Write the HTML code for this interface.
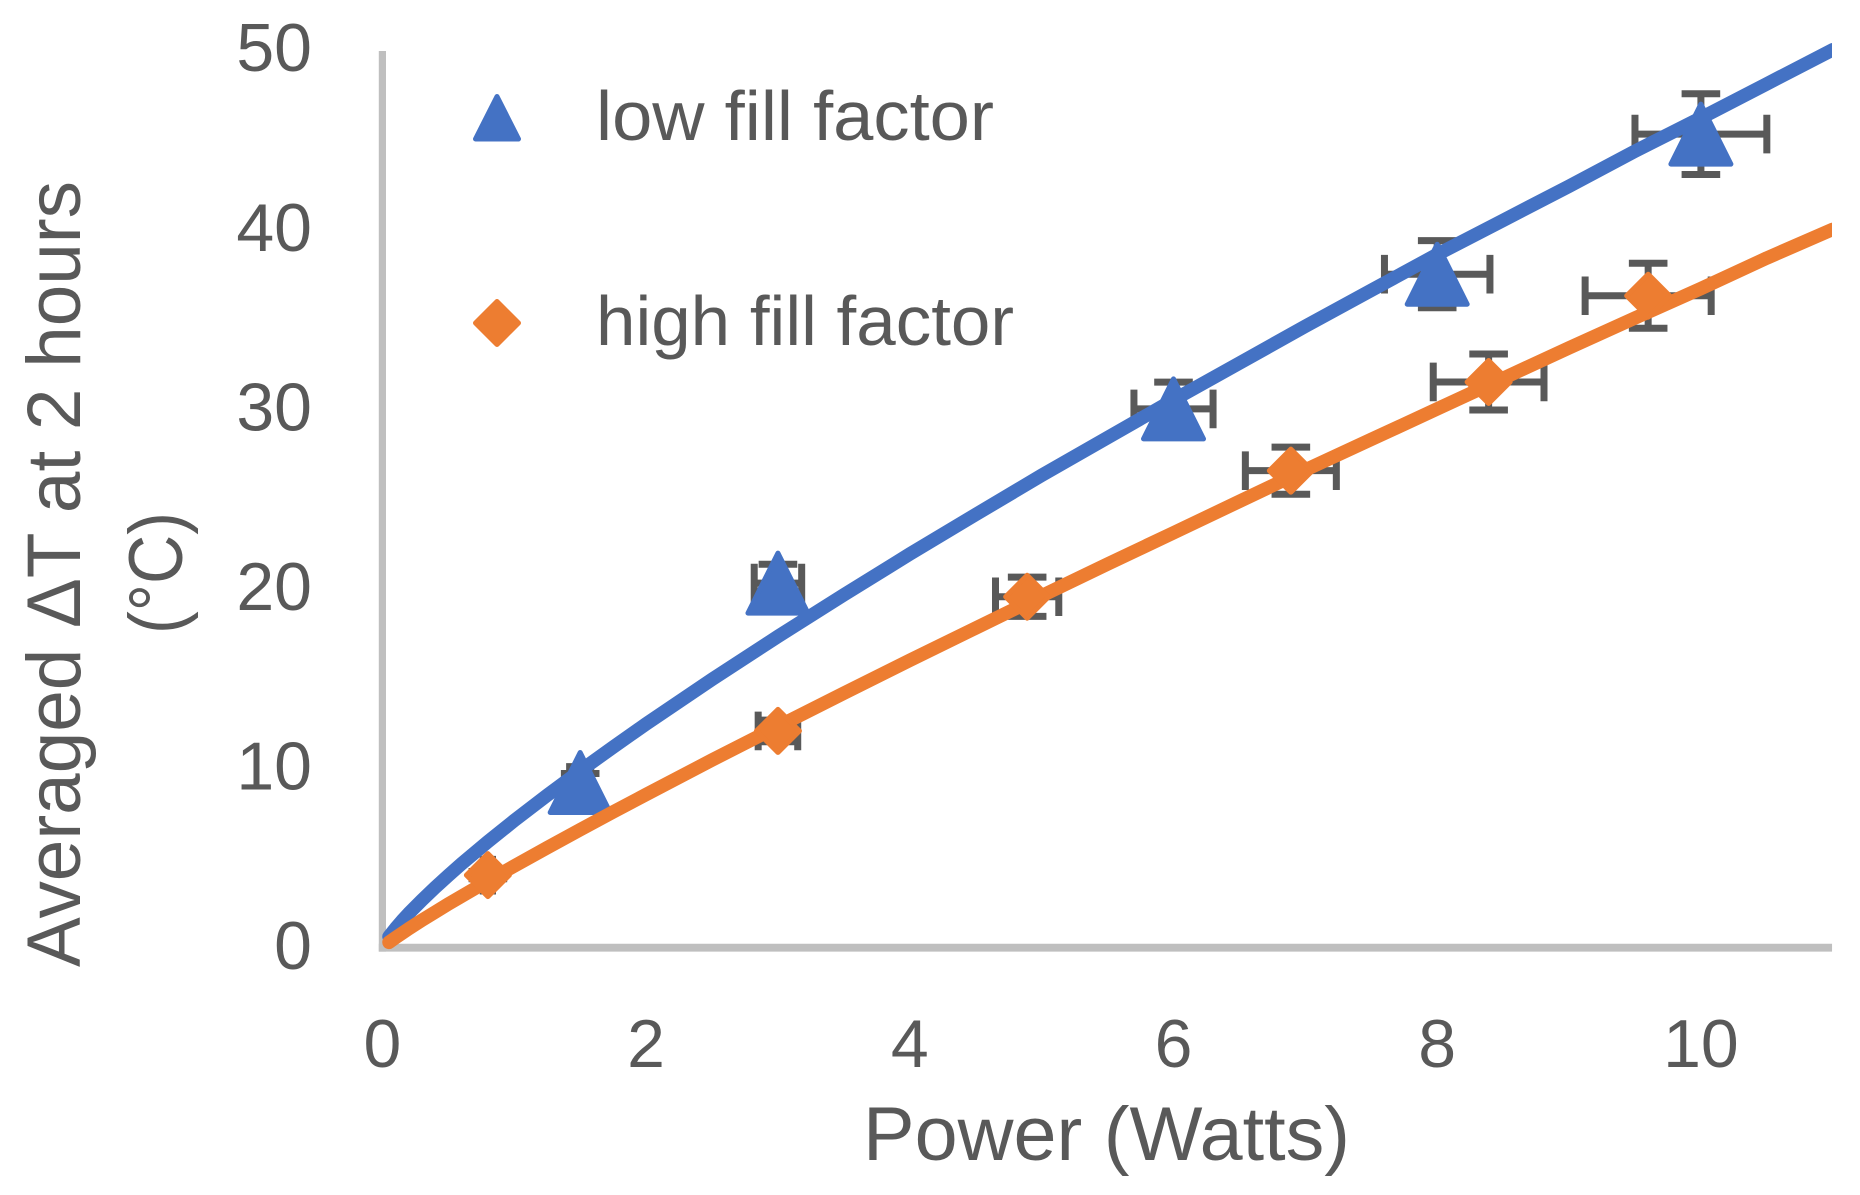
<!DOCTYPE html>
<html lang="en">
<head>
<meta charset="utf-8">
<title>Averaged temperature rise vs power</title>
<style>
html,body{margin:0;padding:0;background:#fff;}
svg{display:block;}
text{font-family:"Liberation Sans",sans-serif;fill:#595959;}
</style>
</head>
<body>
<svg id="chart" xmlns="http://www.w3.org/2000/svg" width="1860" height="1195" viewBox="0 0 1860 1195">
  <defs><clipPath id="plot-clip"><rect x="0" y="0" width="1832" height="1195"/></clipPath></defs>
  <rect x="0" y="0" width="1860" height="1195" fill="#ffffff"/>
  <g id="axes"></g>
  <g id="marks"></g>
  <g>
    <path d="M497 96.5 L518.5 139 L475.5 139 Z" fill="#4472C4" stroke="#4472C4" stroke-width="5" stroke-linejoin="round"/>
    <text x="596" y="140" font-size="70" textLength="398" lengthAdjust="spacingAndGlyphs">low fill factor</text>
    <path d="M497 301.5 L518.5 323 L497 344.5 L475.5 323 Z" fill="#ED7D31" stroke="#ED7D31" stroke-width="5" stroke-linejoin="round"/>
    <text x="596" y="345" font-size="70" textLength="418" lengthAdjust="spacingAndGlyphs">high fill factor</text>
  </g>
  <text x="863" y="1160" font-size="76" text-anchor="start" textLength="487" lengthAdjust="spacingAndGlyphs">Power (Watts)</text>
  <text transform="translate(80 967) rotate(-90)" x="0" y="0" font-size="76" textLength="786" lengthAdjust="spacingAndGlyphs">Averaged ΔT at 2 hours</text>
  <text transform="translate(182 634) rotate(-90)" x="0" y="0" font-size="76" textLength="122" lengthAdjust="spacingAndGlyphs">(°C)</text>
</svg>
<script>
// Axis ticks
const xTicks = [0, 2, 4, 6, 8, 10];
const yTicks = [0, 10, 20, 30, 40, 50];

// Low fill factor measurements
const lowX = [1.5, 3, 6, 8, 10];
const lowY = [9.2, 20.3, 30, 37.5, 45.3];
const lowXErr = [0.08, 0.18, 0.3, 0.4, 0.5];
const lowYErr = [0.5, 1.05, 1.49, 1.87, 2.25];

// High fill factor measurements
const highX = [0.8, 3, 4.89, 6.89, 8.39, 9.6];
const highY = [4.04, 12.07, 19.54, 26.56, 31.5, 36.3];
const highXErr = [0.035, 0.15, 0.24, 0.345, 0.42, 0.478];
const highYErr = [0.2, 0.6, 1.09, 1.31, 1.56, 1.81];

// Trend lines
const trendX = [0.05, 0.1, 0.15, 0.2, 0.3, 0.4, 0.5, 0.6, 0.8, 1, 1.25, 1.5, 1.75, 2, 2.5, 3, 3.5, 4, 4.5, 5, 5.5, 6, 6.5, 7, 7.5, 8, 8.5, 9, 9.5, 10, 10.5, 11];
const trendLow = [0.62, 1.08, 1.51, 1.91, 2.65, 3.35, 4.02, 4.67, 5.9, 7.08, 8.49, 9.85, 11.17, 12.46, 14.94, 17.33, 19.65, 21.92, 24.12, 26.3, 28.4, 30.5, 32.55, 34.6, 36.6, 38.6, 40.5, 42.4, 44.35, 46.2, 48.1, 50];
const trendHigh = [0.3, 0.56, 0.81, 1.06, 1.53, 1.98, 2.43, 2.86, 3.72, 4.55, 5.57, 6.57, 7.56, 8.53, 10.45, 12.32, 14.17, 16, 17.8, 19.59, 21.36, 23.1, 24.85, 26.6, 28.3, 30, 31.7, 33.4, 35.06, 36.7, 38.4, 40];

const SVG_NS = 'http://www.w3.org/2000/svg';
const X0 = 382.4, X_UNIT = 131.85, Y0 = 947.7, Y_UNIT = 17.96;
function sx(v) { return X0 + v * X_UNIT; }
function sy(v) { return Y0 - v * Y_UNIT; }

const axes = document.getElementById('axes');
const marks = document.getElementById('marks');

function make(tag, parent) {
  const el = document.createElementNS(SVG_NS, tag);
  parent.appendChild(el);
  return el;
}

function lineTo(el, x1, y1, x2, y2, color, width) {
  el.setAttribute('x1', x1);
  el.setAttribute('y1', y1);
  el.setAttribute('x2', x2);
  el.setAttribute('y2', y2);
  el.setAttribute('stroke', color);
  el.setAttribute('stroke-width', width);
}

// Axis lines
const yAxisLine = make('line', axes);


lineTo(yAxisLine, sx(0), sy(50) + 1.3, sx(0), sy(0) + 3.9, '#BFBFBF', 7.2);

const xAxisLine = make('line', axes);


lineTo(xAxisLine, sx(0) - 3.6, sy(0), sx(11) - 0.7, sy(0), '#BFBFBF', 7.8);

// Tick labels
xTicks.forEach(function (t) {
  const label = make('text', axes);
  
  
  label.setAttribute('x', sx(t));
  label.setAttribute('y', 1067);
  label.setAttribute('font-size', 68);
  label.setAttribute('text-anchor', 'middle');
  label.textContent = t;
});
yTicks.forEach(function (t) {
  const label = make('text', axes);
  
  
  label.setAttribute('x', 312);
  label.setAttribute('y', sy(t) + 21.5);
  label.setAttribute('font-size', 68);
  label.setAttribute('text-anchor', 'end');
  label.textContent = t;
});

// Error bars
function drawErrors(xs, ys, xe, ye, group) {
  const CAP = 19.3;
  xs.forEach(function (x, i) {
    const cx = sx(x), cy = sy(ys[i]);
    const left = sx(x - xe[i]), right = sx(x + xe[i]);
    const top = sy(ys[i] + ye[i]), bottom = sy(ys[i] - ye[i]);
    const segs = [
      [left, cy, right, cy], [left, cy - CAP, left, cy + CAP], [right, cy - CAP, right, cy + CAP],
      [cx, top, cx, bottom], [cx - CAP, top, cx + CAP, top], [cx - CAP, bottom, cx + CAP, bottom]
    ];
    segs.forEach(function (s) {
      const seg = make('line', group);
      
      
      lineTo(seg, s[0], s[1], s[2], s[3], '#595959', 7);
    });
  });
}

// Path through the trend samples
function trendPath(xs, ys) {
  return xs.map(function (x, i) {
    return (i === 0 ? 'M' : 'L') + sx(x) + ' ' + sy(ys[i]);
  }).join(' ');
}

const lowErrors = make('g', marks);


drawErrors(lowX, lowY, lowXErr, lowYErr, lowErrors);

const highErrors = make('g', marks);


drawErrors(highX, highY, highXErr, highYErr, highErrors);

const lowLine = make('path', marks);


lowLine.setAttribute('d', trendPath(trendX, trendLow));
lowLine.setAttribute('fill', 'none');
lowLine.setAttribute('stroke', '#4472C4');
lowLine.setAttribute('stroke-width', 13.5);
lowLine.setAttribute('stroke-linecap', 'round');
lowLine.setAttribute('stroke-linejoin', 'round');
lowLine.setAttribute('clip-path', 'url(#plot-clip)');

lowX.forEach(function (x, i) {
  const cx = sx(x), cy = sy(lowY[i]);
  const tri = make('path', marks);
  
  
  tri.setAttribute('d', 'M' + cx + ' ' + (cy - 30) + ' L' + (cx + 30) + ' ' + (cy + 30) + ' L' + (cx - 30) + ' ' + (cy + 30) + ' Z');
  tri.setAttribute('fill', '#4472C4');
  tri.setAttribute('stroke', '#4472C4');
  tri.setAttribute('stroke-width', 5);
  tri.setAttribute('stroke-linejoin', 'round');
});

const highLine = make('path', marks);


highLine.setAttribute('d', trendPath(trendX, trendHigh));
highLine.setAttribute('fill', 'none');
highLine.setAttribute('stroke', '#ED7D31');
highLine.setAttribute('stroke-width', 13.5);
highLine.setAttribute('stroke-linecap', 'round');
highLine.setAttribute('stroke-linejoin', 'round');
highLine.setAttribute('clip-path', 'url(#plot-clip)');

highX.forEach(function (x, i) {
  const cx = sx(x), cy = sy(highY[i]);
  const dia = make('path', marks);
  
  
  dia.setAttribute('d', 'M' + cx + ' ' + (cy - 21.5) + ' L' + (cx + 21.5) + ' ' + cy + ' L' + cx + ' ' + (cy + 21.5) + ' L' + (cx - 21.5) + ' ' + cy + ' Z');
  dia.setAttribute('fill', '#ED7D31');
  dia.setAttribute('stroke', '#ED7D31');
  dia.setAttribute('stroke-width', 5);
  dia.setAttribute('stroke-linejoin', 'round');
});
</script>
</body>
</html>
